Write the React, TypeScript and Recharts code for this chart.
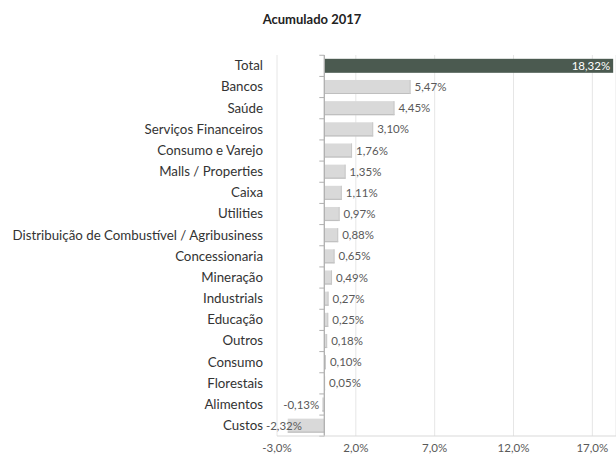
import React from "react";
import { BarChart, Bar, XAxis, YAxis, CartesianGrid, ReferenceLine, Cell, LabelList } from "recharts";

const categories = [
  "Total",
  "Bancos",
  "Saúde",
  "Serviços Financeiros",
  "Consumo e Varejo",
  "Malls / Properties",
  "Caixa",
  "Utilities",
  "Distribuição de Combustível / Agribusiness",
  "Concessionaria",
  "Mineração",
  "Industrials",
  "Educação",
  "Outros",
  "Consumo",
  "Florestais",
  "Alimentos",
  "Custos",
];
const values = [18.32, 5.47, 4.45, 3.1, 1.76, 1.35, 1.11, 0.97, 0.88, 0.65, 0.49, 0.27, 0.25, 0.18, 0.1, 0.05, -0.13, -2.32];
const xTicks = [-3, 2, 7, 12, 17];

const data = categories.map((name, i) => ({ name, value: values[i] }));

const FONT = "Lato, 'Open Sans', sans-serif";
const BAND = 21.1;

function fmt(v: number, digits: number) {
  return v.toFixed(digits).replace(".", ",") + "%";
}

function BarShape(props: any) {
  const { x, y, width, height, payload, index } = props;
  const left = Math.min(x, x + width);
  const w = Math.abs(width);
  const zeroX = payload.value >= 0 ? left : left + w;
  const isTotal = payload.name === "Total";
  const top = y + height / 2 - BAND / 2;
  const bottom = y + height / 2 + BAND / 2;
  return (
    <g>
      <rect x={left} y={y} width={w} height={height} fill={isTotal ? "#4b5a50" : "#d9d9d9"} />
      {!isTotal && <line x1={left} x2={left + w} y1={y + height - 0.5} y2={y + height - 0.5} stroke="#bfbfbf" strokeWidth={1.2} />}
      {!isTotal && payload.value > 0 && <line x1={left + w - 0.5} x2={left + w - 0.5} y1={y} y2={y + height} stroke="#c8c8c8" strokeWidth={1} />}
      <line x1={zeroX} x2={zeroX} y1={top} y2={bottom} stroke="#b0b0b0" strokeWidth={1} />
      <line x1={zeroX - 5} x2={zeroX} y1={top} y2={top} stroke="#b0b0b0" strokeWidth={1} />
      {index === categories.length - 1 && <line x1={zeroX - 5} x2={zeroX} y1={bottom} y2={bottom} stroke="#b0b0b0" strokeWidth={1} />}
    </g>
  );
}

function ValueLabel(props: any) {
  const { x, y, width, height, value, index } = props;
  const left = Math.min(x, x + width);
  const right = Math.max(x, x + width);
  const cy = y + height / 2;
  const text = fmt(Number(value), 2);
  if (index === 0) {
    return (
      <text x={right - 3} y={cy} dy="0.35em" textAnchor="end" fill="#ffffff" fontSize={11.5} fontFamily={FONT}>
        {text}
      </text>
    );
  }
  if (value < 0) {
    const end = Math.max(left - 3, 302);
    return (
      <text x={end} y={cy} dy="0.35em" textAnchor="end" fill="#595959" fontSize={11.5} fontFamily={FONT}>
        {text}
      </text>
    );
  }
  return (
    <text x={right + 4} y={cy} dy="0.35em" textAnchor="start" fill="#595959" fontSize={11.5} fontFamily={FONT}>
      {text}
    </text>
  );
}

function CategoryTick(props: any) {
  const { x, y, payload } = props;
  return (
    <text x={x} y={y} dy="0.35em" textAnchor="end" fill="#333333" fontSize={13.3} fontFamily={FONT}>
      {payload.value}
    </text>
  );
}

export default function App() {
  return (
    <div style={{ position: "absolute", left: 0, top: 0, width: 616, height: 459, background: "#fff" }}>
      <div
        style={{
          position: "absolute",
          left: 0,
          width: 624,
          top: 11,
          textAlign: "center",
          fontFamily: FONT,
          fontWeight: 700,
          fontSize: 13,
          color: "#222",
        }}
      >
        Acumulado 2017
      </div>
      <BarChart
        width={616}
        height={459}
        data={data}
        layout="vertical"
        margin={{ top: 55, right: 0, bottom: 3, left: 0 }}
        barCategoryGap="18%"
      >
        <CartesianGrid horizontal={false} vertical stroke="#e6e6e6" />
        <XAxis
          type="number"
          domain={[-3, 18.5]}
          ticks={xTicks}
          tickFormatter={(v) => fmt(Number(v), 1)}
          tickLine={false}
          tickSize={0}
          tickMargin={8}
          height={20}
          axisLine={{ stroke: "#d9d9d9" }}
          tick={{ fontSize: 11.5, fill: "#595959", fontFamily: FONT }}
          allowDataOverflow
        />
        <YAxis
          type="category"
          dataKey="name"
          width={277}
          tickLine={false}
          axisLine={false}
          tickSize={0}
          tickMargin={14}
          interval={0}
          tick={<CategoryTick />}
        />
        <ReferenceLine x={0} stroke="#b0b0b0" />
        <Bar dataKey="value" isAnimationActive={false} shape={<BarShape />}>
          {data.map((d, i) => (
            <Cell key={i} fill={i === 0 ? "#4b5a50" : "#d9d9d9"} />
          ))}
          <LabelList dataKey="value" content={<ValueLabel />} />
        </Bar>
      </BarChart>
    </div>
  );
}
